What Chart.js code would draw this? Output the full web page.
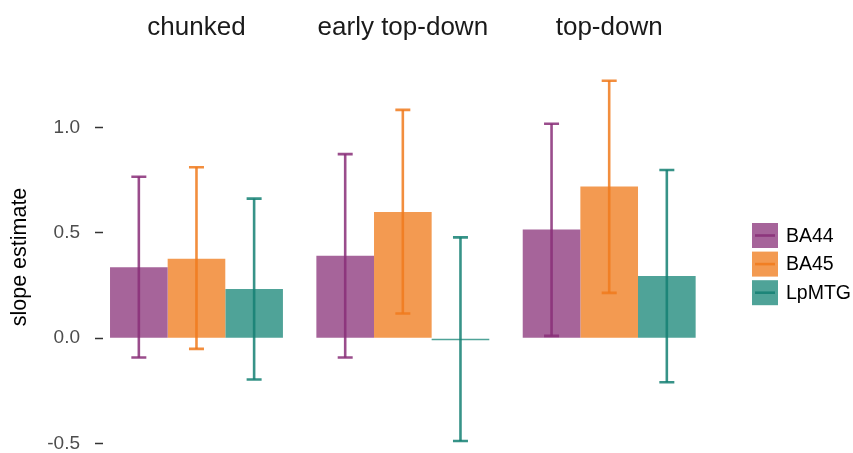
<!DOCTYPE html>
<html>
<head>
<meta charset="utf-8">
<script src="https://cdn.jsdelivr.net/npm/chart.js@4/dist/chart.umd.min.js"></script>
<style>
  html, body { margin: 0; padding: 0; background: #ffffff; }
  #wrap { width: 853px; height: 453px; }
</style>
</head>
<body>
<div id="wrap"><canvas id="c" width="853" height="453"></canvas></div>
<script>
// ---- data ----
const categories = ["chunked", "early top-down", "top-down"];
const seriesNames = ["BA44", "BA45", "LpMTG"];
const ba44Values = [0.336, 0.391, 0.515];
const ba45Values = [0.377, 0.599, 0.719];
const lpmtgValues = [0.233, -0.003, 0.295];
const ba44Lower = [-0.092, -0.092, 0.011];
const ba44Upper = [0.766, 0.873, 1.017];
const ba45Lower = [-0.051, 0.117, 0.215];
const ba45Upper = [0.811, 1.083, 1.221];
const lpmtgLower = [-0.196, -0.488, -0.209];
const lpmtgUpper = [0.662, 0.478, 0.798];
const yTickValues = [-0.5, 0.0, 0.5, 1.0];

// ---- styles ----
const fillColors = ["#a6649a", "#f39a51", "#4fa398"];
const lineColors = ["rgba(136,46,120,0.85)", "rgba(240,122,28,0.85)", "rgba(20,128,115,0.85)"];
const FONT = "'Liberation Sans', Arial, Helvetica, sans-serif";

const values = [ba44Values, ba45Values, lpmtgValues];
const lowers = [ba44Lower, ba45Lower, lpmtgLower];
const uppers = [ba44Upper, ba45Upper, lpmtgUpper];

const datasets = seriesNames.map((name, s) => ({
  label: name,
  data: values[s].map((v, i) => ({ x: i, y: v })),
  backgroundColor: fillColors[s],
  borderWidth: 0,
  barPercentage: 1.0,
  categoryPercentage: 0.838,
  minBarLength: 2,
  errLow: lowers[s],
  errHigh: uppers[s],
  errColor: lineColors[s]
}));

const errorBarPlugin = {
  id: 'errorBars',
  afterDatasetsDraw(chart) {
    const ctx = chart.ctx;
    const yScale = chart.scales.y;
    chart.data.datasets.forEach((ds, di) => {
      const meta = chart.getDatasetMeta(di);
      meta.data.forEach((bar, i) => {
        const x = bar.x;
        const yLo = yScale.getPixelForValue(ds.errLow[i]);
        const yHi = yScale.getPixelForValue(ds.errHigh[i]);
        const cap = 7.5;
        ctx.save();
        ctx.strokeStyle = ds.errColor;
        ctx.lineWidth = 2.6;
        ctx.beginPath();
        ctx.moveTo(x, yLo); ctx.lineTo(x, yHi);
        ctx.stroke();
        ctx.beginPath();
        ctx.moveTo(x - cap, yHi); ctx.lineTo(x + cap, yHi);
        ctx.moveTo(x - cap, yLo); ctx.lineTo(x + cap, yLo);
        ctx.stroke();
        ctx.restore();
      });
    });
  }
};

const legendPlugin = {
  id: 'sideLegend',
  afterDraw(chart) {
    const ctx = chart.ctx;
    const x0 = 752, w = 26, h = 25, step = 28.6, yc0 = 235.5;
    ctx.save();
    chart.data.datasets.forEach((ds, i) => {
      const yc = yc0 + i * step;
      ctx.fillStyle = ds.backgroundColor;
      ctx.fillRect(x0, yc - h / 2, w, h);
      ctx.strokeStyle = ds.errColor;
      ctx.lineWidth = 2.6;
      ctx.beginPath();
      ctx.moveTo(x0 + 3, yc); ctx.lineTo(x0 + w - 3, yc);
      ctx.stroke();
      ctx.fillStyle = '#000000';
      ctx.font = '19.5px ' + FONT;
      ctx.textAlign = 'left';
      ctx.textBaseline = 'middle';
      ctx.fillText(ds.label, 786, yc + 1);
    });
    ctx.restore();
  }
};

new Chart(document.getElementById('c'), {
  type: 'bar',
  data: { datasets },
  plugins: [errorBarPlugin, legendPlugin],
  options: {
    responsive: false,
    animation: false,
    devicePixelRatio: 1,
    layout: { padding: { left: 0, right: 133, top: 0, bottom: 1 } },
    plugins: { legend: { display: false }, tooltip: { enabled: false } },
    scales: {
      x: {
        type: 'linear',
        position: 'top',
        offset: false,
        min: -0.453,
        max: 2.537,
        grid: { display: false, offset: false },
        border: { display: false },
        afterBuildTicks: (axis) => { axis.ticks = categories.map((c, i) => ({ value: i })); },
        afterFit: (axis) => { axis.height = 62; axis.paddingLeft = 0; axis.paddingRight = 0; },
        ticks: {
          autoSkip: false,
          maxRotation: 0,
          padding: 11,
          color: '#1a1a1a',
          font: { family: FONT, size: 26 },
          callback: (v) => categories[v]
        }
      },
      y: {
        type: 'linear',
        min: -0.54,
        max: 1.31,
        grid: { display: true, drawOnChartArea: false, drawTicks: true, tickLength: 8, tickColor: '#333333', tickWidth: 1.5 },
        border: { display: false },
        afterBuildTicks: (axis) => { axis.ticks = yTickValues.map(v => ({ value: v })); },
        afterFit: (axis) => { axis.width = 103; axis.paddingTop = 0; axis.paddingBottom = 0; },
        ticks: {
          padding: 15,
          color: '#4d4d4d',
          font: { family: FONT, size: 19 },
          callback: (v) => v.toFixed(1)
        },
        title: {
          display: true,
          text: 'slope estimate',
          color: '#000000',
          font: { family: FONT, size: 21.5 },
          padding: { top: 7, bottom: 0 }
        }
      }
    }
  }
});
</script>
</body>
</html>
